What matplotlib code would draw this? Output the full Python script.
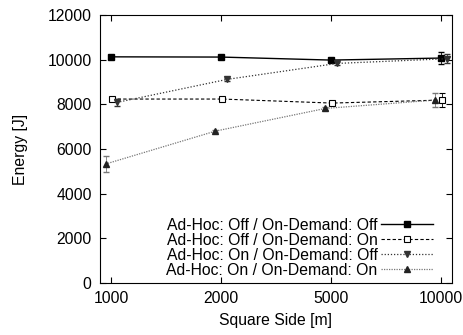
import numpy as np
import matplotlib
matplotlib.use('Agg')
import matplotlib.pyplot as plt
from matplotlib.lines import Line2D

plt.rcParams['font.family'] = ['Liberation Sans', 'DejaVu Sans']

# dados
square_side = ['1000', '2000', '5000', '10000']

off_off = [10130, 10120, 9985, 10075]
off_off_err = [40, 40, 40, 280]

off_on = [8240, 8240, 8060, 8195]
off_on_err = [40, 40, 60, 330]

on_off = [8090, 9120, 9835, 10045]
on_off_err = [150, 60, 60, 200]

on_on = [5330, 6805, 7820, 8195]
on_on_err = [360, 60, 60, 300]

labels = ['Ad-Hoc: Off / On-Demand: Off',
          'Ad-Hoc: Off / On-Demand: On',
          'Ad-Hoc: On / On-Demand: Off',
          'Ad-Hoc: On / On-Demand: On']

x = np.arange(len(square_side))
fs = 11.3

fig = plt.figure(figsize=(4.63, 3.35), dpi=100)
ax = fig.add_axes([0.216, 0.155, 0.76, 0.80])

estilos = [
    dict(color='black', linestyle='-', linewidth=1, marker='s', mfc='black', mec='black'),
    dict(color='black', linestyle=(0, (3, 2)), linewidth=0.8, marker='s', mfc='white', mec='black', mew=0.8),
    dict(color='#333333', linestyle=(0, (1, 1.5)), linewidth=0.9, marker='v', mfc='#333333', mec='#333333'),
    dict(color='#777777', linestyle=(0, (1, 1)), linewidth=0.9, marker='^', mfc='#222222', mec='#222222'),
]
series = [off_off, off_on, on_off, on_on]
erros = [off_off_err, off_on_err, on_off_err, on_on_err]
desloc = [0.0, 0.01, 0.055, -0.05]

handles = []
for s, e, d, est in zip(series, erros, desloc, estilos):
    ax.errorbar(x + d, s, yerr=e, markersize=4.3, capsize=2, elinewidth=0.6, **est)
    handles.append(Line2D([], [], markersize=4.3, **est))

ax.set_xlim(-0.1, 3.1)
ax.set_ylim(0, 12000)
ax.set_xticks(x)
ax.set_xticklabels(square_side)
ax.set_yticks([0, 2000, 4000, 6000, 8000, 10000, 12000])
ax.tick_params(direction='in', top=True, right=True, length=4, labelsize=fs, pad=6)
ax.set_xlabel('Square Side [m]', fontsize=fs, labelpad=5)
ax.set_ylabel('Energy [J]', fontsize=fs, labelpad=14)

ax.legend(handles, labels, loc='lower right', bbox_to_anchor=(0.945, 0.02),
          frameon=False, markerfirst=False, fontsize=fs, handlelength=3.3,
          handletextpad=0.2, labelspacing=0.0, borderpad=0, borderaxespad=0)

plt.savefig('out.png', dpi=100)
